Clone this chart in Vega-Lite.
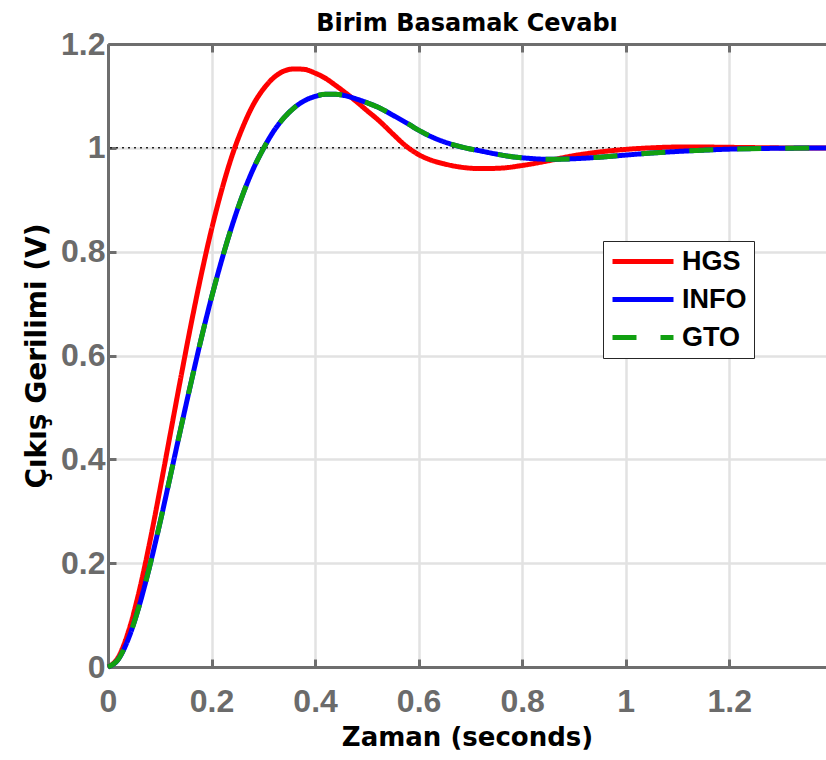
{
  "$schema": "https://vega.github.io/schema/vega-lite/v6.json",
  "width": 718,
  "height": 623,
  "autosize": "none",
  "padding": {"left": 108, "top": 44, "right": 0, "bottom": 93},
  "background": "white",
  "config": {
    "view": {"stroke": null},
    "line": {"strokeWidth": 5, "interpolate": "monotone", "strokeCap": "butt"}
  },
  "title": {
    "text": "Birim Basamak Cevabı",
    "font": "DejaVu Sans",
    "fontSize": 24,
    "fontWeight": "bold",
    "color": "#000000",
    "anchor": "middle",
    "offset": -8
  },
  "datasets": {
    "ref": [{"y": 1}],
    "hgs": [
      {"t": 0, "y": 0, "s": "HGS"}, {"t": 0.02, "y": 0.019, "s": "HGS"}, {"t": 0.04, "y": 0.07, "s": "HGS"},
      {"t": 0.06, "y": 0.145, "s": "HGS"}, {"t": 0.08, "y": 0.237, "s": "HGS"}, {"t": 0.1, "y": 0.34, "s": "HGS"},
      {"t": 0.12, "y": 0.447, "s": "HGS"}, {"t": 0.14, "y": 0.554, "s": "HGS"}, {"t": 0.16, "y": 0.658, "s": "HGS"},
      {"t": 0.18, "y": 0.755, "s": "HGS"}, {"t": 0.2, "y": 0.843, "s": "HGS"}, {"t": 0.22, "y": 0.92, "s": "HGS"},
      {"t": 0.24, "y": 0.986, "s": "HGS"}, {"t": 0.26, "y": 1.039, "s": "HGS"}, {"t": 0.28, "y": 1.082, "s": "HGS"},
      {"t": 0.3, "y": 1.113, "s": "HGS"}, {"t": 0.32, "y": 1.135, "s": "HGS"}, {"t": 0.34, "y": 1.148, "s": "HGS"},
      {"t": 0.36, "y": 1.152, "s": "HGS"}, {"t": 0.38, "y": 1.151, "s": "HGS"}, {"t": 0.4, "y": 1.144, "s": "HGS"},
      {"t": 0.42, "y": 1.134, "s": "HGS"}, {"t": 0.44, "y": 1.12, "s": "HGS"}, {"t": 0.46, "y": 1.105, "s": "HGS"},
      {"t": 0.48, "y": 1.089, "s": "HGS"}, {"t": 0.5, "y": 1.072, "s": "HGS"}, {"t": 0.525, "y": 1.051, "s": "HGS"},
      {"t": 0.55, "y": 1.027, "s": "HGS"}, {"t": 0.575, "y": 1.004, "s": "HGS"}, {"t": 0.6, "y": 0.987, "s": "HGS"},
      {"t": 0.625, "y": 0.976, "s": "HGS"}, {"t": 0.65, "y": 0.969, "s": "HGS"}, {"t": 0.68, "y": 0.963, "s": "HGS"},
      {"t": 0.72, "y": 0.96, "s": "HGS"}, {"t": 0.76, "y": 0.961, "s": "HGS"}, {"t": 0.8, "y": 0.966, "s": "HGS"},
      {"t": 0.85, "y": 0.975, "s": "HGS"}, {"t": 0.9, "y": 0.985, "s": "HGS"}, {"t": 0.95, "y": 0.992, "s": "HGS"},
      {"t": 1.0, "y": 0.997, "s": "HGS"}, {"t": 1.05, "y": 1.0, "s": "HGS"}, {"t": 1.1, "y": 1.0015, "s": "HGS"},
      {"t": 1.15, "y": 1.0015, "s": "HGS"}, {"t": 1.2, "y": 1.001, "s": "HGS"}, {"t": 1.25, "y": 1.0004, "s": "HGS"},
      {"t": 1.3, "y": 0.9999, "s": "HGS"}, {"t": 1.39, "y": 0.9997, "s": "HGS"}
    ],
    "info": [
      {"t": 0, "y": 0, "s": "INFO"}, {"t": 0.02, "y": 0.015, "s": "INFO"}, {"t": 0.04, "y": 0.056, "s": "INFO"},
      {"t": 0.06, "y": 0.117, "s": "INFO"}, {"t": 0.08, "y": 0.192, "s": "INFO"}, {"t": 0.1, "y": 0.276, "s": "INFO"},
      {"t": 0.12, "y": 0.366, "s": "INFO"}, {"t": 0.14, "y": 0.457, "s": "INFO"}, {"t": 0.16, "y": 0.546, "s": "INFO"},
      {"t": 0.18, "y": 0.632, "s": "INFO"}, {"t": 0.2, "y": 0.712, "s": "INFO"}, {"t": 0.22, "y": 0.785, "s": "INFO"},
      {"t": 0.24, "y": 0.851, "s": "INFO"}, {"t": 0.26, "y": 0.909, "s": "INFO"}, {"t": 0.28, "y": 0.958, "s": "INFO"},
      {"t": 0.3, "y": 0.998, "s": "INFO"}, {"t": 0.32, "y": 1.032, "s": "INFO"}, {"t": 0.34, "y": 1.058, "s": "INFO"},
      {"t": 0.36, "y": 1.0775, "s": "INFO"}, {"t": 0.38, "y": 1.091, "s": "INFO"}, {"t": 0.4, "y": 1.099, "s": "INFO"},
      {"t": 0.42, "y": 1.103, "s": "INFO"}, {"t": 0.44, "y": 1.103, "s": "INFO"}, {"t": 0.46, "y": 1.1, "s": "INFO"},
      {"t": 0.48, "y": 1.094, "s": "INFO"}, {"t": 0.5, "y": 1.087, "s": "INFO"}, {"t": 0.52, "y": 1.079, "s": "INFO"},
      {"t": 0.55, "y": 1.063, "s": "INFO"}, {"t": 0.58, "y": 1.046, "s": "INFO"}, {"t": 0.6, "y": 1.034, "s": "INFO"},
      {"t": 0.63, "y": 1.019, "s": "INFO"}, {"t": 0.66, "y": 1.008, "s": "INFO"}, {"t": 0.69, "y": 1.0, "s": "INFO"},
      {"t": 0.72, "y": 0.994, "s": "INFO"}, {"t": 0.75, "y": 0.988, "s": "INFO"}, {"t": 0.78, "y": 0.983, "s": "INFO"},
      {"t": 0.81, "y": 0.98, "s": "INFO"}, {"t": 0.85, "y": 0.978, "s": "INFO"}, {"t": 0.9, "y": 0.979, "s": "INFO"},
      {"t": 0.95, "y": 0.982, "s": "INFO"}, {"t": 1.0, "y": 0.986, "s": "INFO"}, {"t": 1.05, "y": 0.99, "s": "INFO"},
      {"t": 1.1, "y": 0.993, "s": "INFO"}, {"t": 1.15, "y": 0.9955, "s": "INFO"}, {"t": 1.2, "y": 0.9975, "s": "INFO"},
      {"t": 1.3, "y": 0.9992, "s": "INFO"}, {"t": 1.39, "y": 0.9998, "s": "INFO"}
    ],
    "gto": [
      {"t": 0, "y": 0, "s": "GTO"}, {"t": 0.02, "y": 0.015, "s": "GTO"}, {"t": 0.04, "y": 0.056, "s": "GTO"},
      {"t": 0.06, "y": 0.117, "s": "GTO"}, {"t": 0.08, "y": 0.192, "s": "GTO"}, {"t": 0.1, "y": 0.276, "s": "GTO"},
      {"t": 0.12, "y": 0.366, "s": "GTO"}, {"t": 0.14, "y": 0.457, "s": "GTO"}, {"t": 0.16, "y": 0.546, "s": "GTO"},
      {"t": 0.18, "y": 0.632, "s": "GTO"}, {"t": 0.2, "y": 0.712, "s": "GTO"}, {"t": 0.22, "y": 0.785, "s": "GTO"},
      {"t": 0.24, "y": 0.851, "s": "GTO"}, {"t": 0.26, "y": 0.909, "s": "GTO"}, {"t": 0.28, "y": 0.958, "s": "GTO"},
      {"t": 0.3, "y": 0.998, "s": "GTO"}, {"t": 0.32, "y": 1.032, "s": "GTO"}, {"t": 0.34, "y": 1.058, "s": "GTO"},
      {"t": 0.36, "y": 1.0775, "s": "GTO"}, {"t": 0.38, "y": 1.091, "s": "GTO"}, {"t": 0.4, "y": 1.099, "s": "GTO"},
      {"t": 0.42, "y": 1.103, "s": "GTO"}, {"t": 0.44, "y": 1.103, "s": "GTO"}, {"t": 0.46, "y": 1.1, "s": "GTO"},
      {"t": 0.48, "y": 1.094, "s": "GTO"}, {"t": 0.5, "y": 1.087, "s": "GTO"}, {"t": 0.52, "y": 1.079, "s": "GTO"},
      {"t": 0.55, "y": 1.063, "s": "GTO"}, {"t": 0.58, "y": 1.046, "s": "GTO"}, {"t": 0.6, "y": 1.034, "s": "GTO"},
      {"t": 0.63, "y": 1.019, "s": "GTO"}, {"t": 0.66, "y": 1.008, "s": "GTO"}, {"t": 0.69, "y": 1.0, "s": "GTO"},
      {"t": 0.72, "y": 0.994, "s": "GTO"}, {"t": 0.75, "y": 0.988, "s": "GTO"}, {"t": 0.78, "y": 0.983, "s": "GTO"},
      {"t": 0.81, "y": 0.98, "s": "GTO"}, {"t": 0.85, "y": 0.978, "s": "GTO"}, {"t": 0.9, "y": 0.979, "s": "GTO"},
      {"t": 0.95, "y": 0.982, "s": "GTO"}, {"t": 1.0, "y": 0.986, "s": "GTO"}, {"t": 1.05, "y": 0.99, "s": "GTO"},
      {"t": 1.1, "y": 0.993, "s": "GTO"}, {"t": 1.15, "y": 0.9955, "s": "GTO"}, {"t": 1.2, "y": 0.9975, "s": "GTO"},
      {"t": 1.3, "y": 0.9992, "s": "GTO"}, {"t": 1.39, "y": 0.9998, "s": "GTO"}
    ]
  },
  "encoding": {
    "y": {
      "field": "y",
      "type": "quantitative",
      "scale": {"domain": [0, 1.2], "nice": false, "zero": false},
      "axis": {
        "values": [0, 0.2, 0.4, 0.6, 0.8, 1, 1.2],
        "format": ".1~f",
        "title": "Çıkış Gerilimi (V)",
        "titleFont": "DejaVu Sans",
        "titleFontSize": 28,
        "titleFontWeight": "bold",
        "titleColor": "#000000",
        "titlePadding": 9,
        "labelFont": "Liberation Sans",
        "labelFontSize": 32,
        "labelFontWeight": "bold",
        "labelColor": "#6b6b6b",
        "labelPadding": 11,
        "labelFlush": false,
        "domainColor": "#6e6e6e",
        "domainWidth": 3,
        "tickColor": "#6e6e6e",
        "tickWidth": 3,
        "tickSize": -8,
        "grid": true,
        "gridColor": "#e2e2e2",
        "gridWidth": 2.5
      }
    }
  },
  "resolve": {"axis": {"x": "independent"}},
  "layer": [
    {
      "data": {"name": "ref"},
      "mark": {"type": "rule", "color": "#222222", "strokeWidth": 1.5, "strokeDash": [2, 4]}
    },
    {
      "data": {"name": "hgs"},
      "mark": {"type": "line"},
      "encoding": {
        "x": {
          "field": "t",
          "type": "quantitative",
          "scale": {"domain": [0, 1.387], "nice": false, "zero": false},
          "axis": {
            "values": [0, 0.2, 0.4, 0.6, 0.8, 1, 1.2],
            "format": ".1~f",
            "title": "Zaman (seconds)",
            "titleFont": "DejaVu Sans",
            "titleFontSize": 26,
            "titleFontWeight": "bold",
            "titleColor": "#000000",
            "titlePadding": 7,
            "labelFont": "Liberation Sans",
            "labelFontSize": 32,
            "labelFontWeight": "bold",
            "labelColor": "#6b6b6b",
            "labelPadding": 27,
            "labelFlush": false,
            "domainColor": "#6e6e6e",
            "domainWidth": 3,
            "tickColor": "#6e6e6e",
            "tickWidth": 3,
            "tickSize": -8,
            "grid": true,
            "gridColor": "#e2e2e2",
            "gridWidth": 2.5
          }
        },
        "color": {
          "field": "s",
          "type": "nominal",
          "scale": {"domain": ["HGS", "INFO", "GTO"], "range": ["#ff0000", "#0000ff", "#11a011"]},
          "legend": {
            "title": null,
            "orient": "none",
            "legendX": 495,
            "legendY": 197,
            "fillColor": "#ffffff",
            "strokeColor": "#262626",
            "padding": 7,
            "symbolType": "stroke",
            "symbolSize": 3721,
            "symbolStrokeWidth": 5,
            "clipHeight": 27,
            "labelFont": "Liberation Sans",
            "labelFontSize": 27,
            "labelFontWeight": "bold",
            "labelColor": "#000000",
            "labelOffset": 6,
            "rowPadding": 10,
            "encode": {"legend": {"update": {"strokeWidth": {"value": 3}}}}
          }
        },
        "strokeDash": {
          "field": "s",
          "type": "nominal",
          "scale": {"domain": ["HGS", "INFO", "GTO"], "range": [[1, 0], [1, 0], [24, 24]]},
          "legend": null
        }
      }
    },
    {
      "data": {"name": "info"},
      "mark": {"type": "line"},
      "encoding": {
        "x": {"field": "t", "type": "quantitative", "axis": null},
        "color": {"field": "s", "type": "nominal"},
        "strokeDash": {"field": "s", "type": "nominal"}
      }
    },
    {
      "data": {"name": "gto"},
      "mark": {"type": "line"},
      "encoding": {
        "x": {
          "field": "t",
          "type": "quantitative",
          "axis": {
            "orient": "top",
            "values": [0, 0.2, 0.4, 0.6, 0.8, 1, 1.2],
            "labels": false,
            "title": null,
            "grid": false,
            "domainColor": "#6e6e6e",
            "domainWidth": 3,
            "tickColor": "#6e6e6e",
            "tickWidth": 3,
            "tickSize": -8
          }
        },
        "color": {"field": "s", "type": "nominal"},
        "strokeDash": {"field": "s", "type": "nominal"}
      }
    }
  ]
}
